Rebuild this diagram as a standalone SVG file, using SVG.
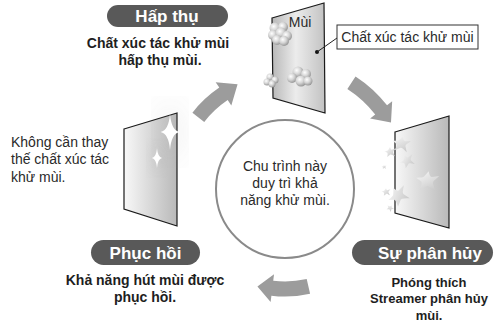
<svg xmlns="http://www.w3.org/2000/svg" width="494" height="325" viewBox="0 0 494 325">
  <defs>
    <style>
      text { font-family: "Liberation Sans", Arial, sans-serif; }
      .pill { fill: #595959; }
      .pill-t { font-size: 17px; font-weight: bold; fill: #ffffff; text-anchor: middle; }
      .sub { font-size: 14px; font-weight: bold; fill: #1e1e1e; text-anchor: middle; }
      .sub-s { font-size: 13px; }
      .note { font-size: 14px; fill: #2a2a2a; }
      .panel { stroke: #1a1a1a; stroke-width: 1.2; stroke-linejoin: miter; }
      .arrow { fill: #9c9c9c; }
      .ball { fill: url(#ballG); }
      .bit { fill: url(#bitG); }
    </style>
    <linearGradient id="panelG" x1="0" y1="0" x2="1" y2="0">
      <stop offset="0" stop-color="#f8f8f8"/>
      <stop offset="1" stop-color="#b9b9b9"/>
    </linearGradient>
    <linearGradient id="panelTopG" x1="0" y1="0" x2="1" y2="0">
      <stop offset="0" stop-color="#b8b8b8"/>
      <stop offset="0.45" stop-color="#ececec"/>
      <stop offset="1" stop-color="#c2c2c2"/>
    </linearGradient>
    <radialGradient id="ballG" cx="0.38" cy="0.35" r="0.7">
      <stop offset="0" stop-color="#ffffff"/>
      <stop offset="0.5" stop-color="#d4d4d4"/>
      <stop offset="1" stop-color="#909090"/>
    </radialGradient>
    <linearGradient id="bitG" x1="0" y1="0" x2="1" y2="1">
      <stop offset="0" stop-color="#fafafa"/>
      <stop offset="1" stop-color="#c4c4c4"/>
    </linearGradient>
    <filter id="glow" x="-50%" y="-50%" width="200%" height="200%">
      <feGaussianBlur stdDeviation="1.2"/>
    </filter>
    <path id="star4" d="M0,-1 Q0.1,-0.1 0.72,0 Q0.1,0.1 0,1 Q-0.1,0.1 -0.72,0 Q-0.1,-0.1 0,-1 Z"/>
    <path id="bit" d="M0,-7 C1,-4 2,-3 3,-3.5 L8,-5 C6,-2 4,-1 4.5,1 L7,6 C4,4.5 2,3 0.5,3.5 L-4,7 C-3.5,4 -3,2 -4,1 L-8,-1 C-5,-1.5 -3,-2 -2.5,-3 Z"/>
  </defs>

  <!-- cycle arrows -->
  <g id="connectors">
    <path class="arrow" d="M192.41,112.66 A117.5,117.5 0 0 1 219.29,87.59 L215.66,82.20 L237.58,84.30 L231.32,105.42 L227.68,100.03 A102.5,102.5 0 0 0 204.23,121.89 Z"/>
    <path class="arrow" d="M355.53,76.39 A129.5,129.5 0 0 1 387.05,105.27 L392.17,101.26 L390.99,122.49 L370.10,118.50 L375.23,114.50 A114.5,114.5 0 0 0 347.36,88.97 Z"/>
    <path class="arrow" d="M310.09,293.64 A111.5,111.5 0 0 1 271.41,295.66 L270.62,302.12 L257.43,286.39 L274.03,274.33 L273.24,280.78 A96.5,96.5 0 0 0 306.71,279.03 Z"/>
  </g>

  <!-- centre circle -->
  <g id="cycle-center">
    <circle cx="285" cy="189" r="69" fill="#ffffff" stroke="#8a8a8a" stroke-width="2"/>
    <text class="note" x="285" y="171" text-anchor="middle" font-size="14.5">Chu trình này</text>
    <text class="note" x="285" y="188" text-anchor="middle" font-size="14.5">duy trì khả</text>
    <text class="note" x="285" y="205" text-anchor="middle" font-size="14.5">năng khử mùi.</text>
  </g>

  <!-- top panel: odour adsorbed -->
  <g id="panel-adsorb">
    <polygon class="panel" fill="url(#panelTopG)" points="272,18 324,3 325,113 273,98"/>
    <text class="note" x="300" y="27" text-anchor="middle">Mùi</text>
    <g id="odour-1">
      <circle class="ball" cx="275" cy="28" r="5.5"/>
      <circle class="ball" cx="283" cy="27" r="5"/>
      <circle class="ball" cx="273" cy="35" r="5"/>
      <circle class="ball" cx="281" cy="33" r="5.5"/>
      <circle class="ball" cx="287" cy="36" r="5"/>
      <circle class="ball" cx="277" cy="40" r="5"/>
      <circle class="ball" cx="284" cy="41" r="5"/>
    </g>
    <g id="odour-2">
      <circle class="ball" cx="298" cy="72" r="5.5"/>
      <circle class="ball" cx="306" cy="74" r="5"/>
      <circle class="ball" cx="292" cy="78" r="5"/>
      <circle class="ball" cx="301" cy="81" r="5.5"/>
      <circle class="ball" cx="308" cy="81" r="4.5"/>
    </g>
    <g id="odour-3">
      <circle class="ball" cx="270" cy="77" r="3.5"/>
      <circle class="ball" cx="275" cy="80" r="3.5"/>
      <circle class="ball" cx="267" cy="82" r="3.5"/>
      <circle class="ball" cx="272" cy="84" r="3.5"/>
    </g>
    <circle cx="317" cy="52" r="2" fill="#111"/>
    <line x1="317" y1="52" x2="337" y2="38" stroke="#222" stroke-width="1"/>
  </g>

  <g id="label-catalyst">
    <rect x="337" y="25" width="141" height="24" fill="#ffffff" stroke="#333" stroke-width="1"/>
    <text class="note" x="407.5" y="42" text-anchor="middle">Chất xúc tác khử mùi</text>
  </g>

  <!-- right panel: decomposition -->
  <g id="panel-decompose">
    <polygon class="panel" fill="url(#panelG)" points="395,132 449,116 449,228 395,213"/>
    <use href="#bit" class="bit" transform="translate(401,144) rotate(15) scale(1.1)"/>
    <use href="#bit" class="bit" transform="translate(390,152) scale(0.7)"/>
    <use href="#bit" class="bit" transform="translate(407,161) rotate(-20) scale(0.9)"/>
    <use href="#bit" class="bit" transform="translate(427,181) rotate(10) scale(1.4)"/>
    <use href="#bit" class="bit" transform="translate(398,196) rotate(-30) scale(1.3)"/>
    <use href="#bit" class="bit" transform="translate(386,192) scale(0.55)"/>
    <use href="#bit" class="bit" transform="translate(390,208) rotate(40) scale(0.45)"/>
    <use href="#bit" class="bit" transform="translate(384,167) scale(0.3)"/>
  </g>

  <!-- left panel: restored -->
  <g id="panel-restored">
    <polygon class="panel" fill="url(#panelG)" points="124,129 177,113 177,226 124,209"/>
    <use href="#star4" fill="#9a9a9a" filter="url(#glow)" transform="translate(170,132) scale(13,18)"/>
    <use href="#star4" fill="#ffffff" transform="translate(170,132) scale(13,18)"/>
    <use href="#star4" fill="#9a9a9a" filter="url(#glow)" transform="translate(157,158) scale(7,10)"/>
    <use href="#star4" fill="#ffffff" transform="translate(157,158) scale(7,10)"/>
  </g>

  <g id="note-left">
    <text class="note" x="11" y="147">Không cần thay</text>
    <text class="note" x="11" y="164">thế chất xúc tác</text>
    <text class="note" x="11" y="182">khử mùi.</text>
  </g>

  <!-- stage labels -->
  <g id="stage-adsorb">
    <rect class="pill" x="107" y="5" width="121" height="22" rx="11"/>
    <text class="pill-t" x="167" y="22">Hấp thụ</text>
    <text class="sub" x="158" y="48">Chất xúc tác khử mùi</text>
    <text class="sub" x="160" y="65">hấp thụ mùi.</text>
  </g>

  <g id="stage-decompose">
    <rect class="pill" x="352" y="240" width="141" height="25" rx="12.5"/>
    <text class="pill-t" x="430" y="259" font-size="18">Sự phân hủy</text>
    <text class="sub sub-s" x="429" y="287">Phóng thích</text>
    <text class="sub sub-s" x="429" y="303">Streamer phân hủy</text>
    <text class="sub sub-s" x="429" y="320">mùi.</text>
  </g>

  <g id="stage-restore">
    <rect class="pill" x="91" y="240" width="109" height="25" rx="12.5"/>
    <text class="pill-t" x="145.5" y="259">Phục hồi</text>
    <text class="sub" x="145" y="285">Khả năng hút mùi được</text>
    <text class="sub" x="145" y="302">phục hồi.</text>
  </g>
</svg>
